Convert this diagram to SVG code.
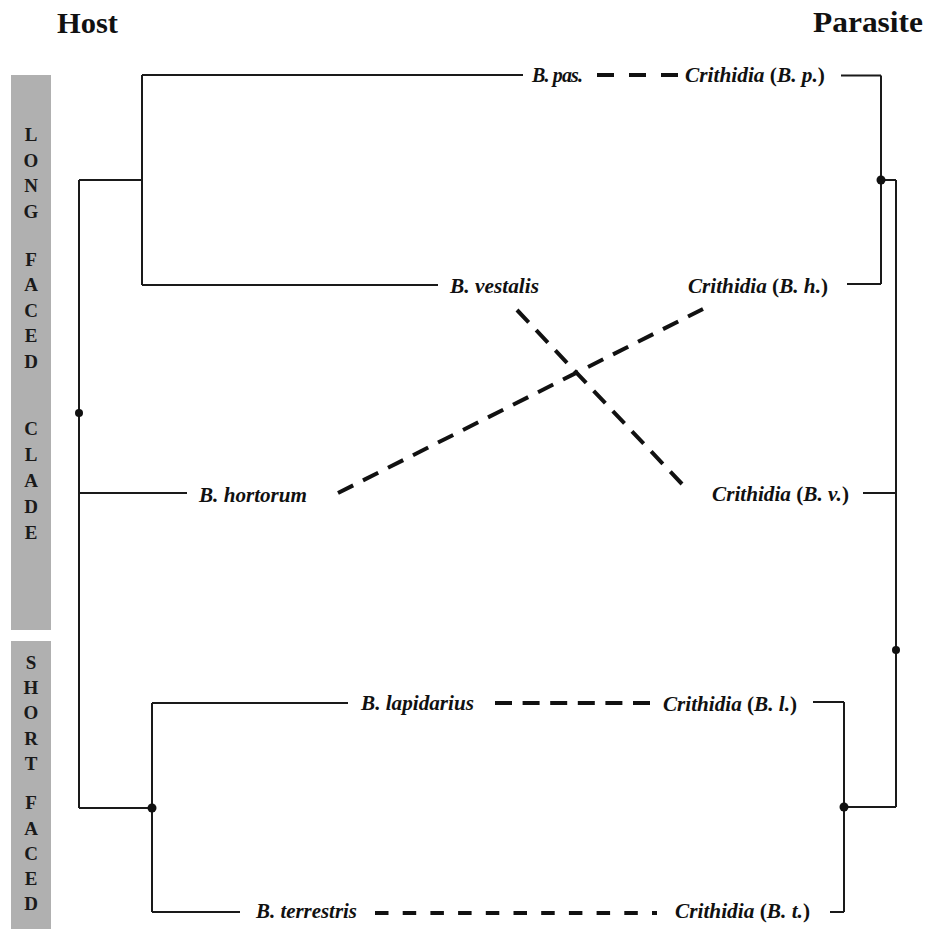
<svg xmlns="http://www.w3.org/2000/svg" width="927" height="929" viewBox="0 0 927 929">
<style>
.hdr{font-family:"Liberation Serif","Times New Roman",serif;font-weight:bold;font-size:30px;fill:#111}
.side{font-family:"Liberation Serif","Times New Roman",serif;font-weight:bold;font-size:19px;fill:#1a1a1a;text-anchor:middle}
.lbl{font-family:"Liberation Serif","Times New Roman",serif;font-weight:bold;font-style:italic;font-size:20px;fill:#111}
.up{font-style:normal}
.tree{stroke:#1a1a1a;stroke-width:2;fill:none}
.dash{stroke:#111;stroke-width:4;fill:none}
.dot{fill:#111}
.band{fill:#b0b0b0}
</style>
<rect width="927" height="929" fill="#ffffff"/>
<g id="headers">
<text class="hdr" x="57" y="33" textLength="61" lengthAdjust="spacingAndGlyphs">Host</text>
<text class="hdr" x="813" y="32" textLength="110" lengthAdjust="spacingAndGlyphs">Parasite</text>
</g>
<g id="long-faced-clade">
<rect class="band" x="11" y="75" width="40" height="555"/>
<text class="side" x="31" y="141">L</text>
<text class="side" x="31" y="166.5">O</text>
<text class="side" x="31" y="192">N</text>
<text class="side" x="31" y="218">G</text>
<text class="side" x="31" y="265.5">F</text>
<text class="side" x="31" y="291">A</text>
<text class="side" x="31" y="316.5">C</text>
<text class="side" x="31" y="342">E</text>
<text class="side" x="31" y="367.5">D</text>
<text class="side" x="31" y="435">C</text>
<text class="side" x="31" y="461">L</text>
<text class="side" x="31" y="487">A</text>
<text class="side" x="31" y="512.5">D</text>
<text class="side" x="31" y="538.5">E</text>
</g>
<g id="short-faced-clade">
<rect class="band" x="11" y="641" width="40" height="288"/>
<text class="side" x="31" y="668.5">S</text>
<text class="side" x="31" y="693.5">H</text>
<text class="side" x="31" y="718.5">O</text>
<text class="side" x="31" y="744.5">R</text>
<text class="side" x="31" y="769.5">T</text>
<text class="side" x="31" y="808.5">F</text>
<text class="side" x="31" y="834.5">A</text>
<text class="side" x="31" y="859.5">C</text>
<text class="side" x="31" y="884.5">E</text>
<text class="side" x="31" y="909.5">D</text>
</g>
<g id="connectors">
<g id="host-tree">
<path class="tree" d="M79 180V808M79 180H142M142 75V285M142 75H523M142 285H438M79 493H187M79 808H152M152 703V912M152 703H348M152 912H240"/>
<circle class="dot" cx="79" cy="413" r="4"/>
<circle class="dot" cx="152" cy="808" r="4.5"/>
</g>
<g id="parasite-tree">
<path class="tree" d="M841 75.5H881M847 284H881M881 75.5V284M881 180H896M896 180V807M863 493H896M813 702H844M830 912H844M844 702V912M844 807H896"/>
<circle class="dot" cx="881" cy="180" r="4.5"/>
<circle class="dot" cx="896" cy="650" r="4"/>
<circle class="dot" cx="844" cy="807" r="4.5"/>
</g>
<g id="associations">
<line class="dash" x1="597" y1="75" x2="678" y2="75" stroke-dasharray="17 15"/>
<line class="dash" x1="517" y1="310" x2="682" y2="484" stroke-dasharray="17 10.85"/>
<line class="dash" x1="338" y1="493" x2="703" y2="309" stroke-dasharray="17 11"/>
<line class="dash" x1="495" y1="703" x2="650" y2="703" stroke-dasharray="17 10.6"/>
<line class="dash" x1="375" y1="913" x2="657" y2="913" stroke-dasharray="13.5 14.2"/>
</g>
</g>
<g id="host-b-pas"><text class="lbl" x="532" y="82" textLength="51" lengthAdjust="spacing">B. pas.</text></g>
<g id="host-b-vestalis"><text class="lbl" x="450" y="293" textLength="89" lengthAdjust="spacingAndGlyphs">B. vestalis</text></g>
<g id="host-b-hortorum"><text class="lbl" x="199" y="502" textLength="108" lengthAdjust="spacingAndGlyphs">B. hortorum</text></g>
<g id="host-b-lapidarius"><text class="lbl" x="361" y="710" textLength="113" lengthAdjust="spacingAndGlyphs">B. lapidarius</text></g>
<g id="host-b-terrestris"><text class="lbl" x="256" y="918" textLength="101" lengthAdjust="spacingAndGlyphs">B. terrestris</text></g>
<g id="parasite-bp"><text class="lbl" x="685" y="82" textLength="140" lengthAdjust="spacingAndGlyphs">Crithidia <tspan class="up">(</tspan>B. p.<tspan class="up">)</tspan></text></g>
<g id="parasite-bh"><text class="lbl" x="688" y="293" textLength="140" lengthAdjust="spacingAndGlyphs">Crithidia <tspan class="up">(</tspan>B. h.<tspan class="up">)</tspan></text></g>
<g id="parasite-bv"><text class="lbl" x="712" y="501" textLength="137" lengthAdjust="spacingAndGlyphs">Crithidia <tspan class="up">(</tspan>B. v.<tspan class="up">)</tspan></text></g>
<g id="parasite-bl"><text class="lbl" x="663" y="711" textLength="134" lengthAdjust="spacingAndGlyphs">Crithidia <tspan class="up">(</tspan>B. l.<tspan class="up">)</tspan></text></g>
<g id="parasite-bt"><text class="lbl" x="675" y="918" textLength="135" lengthAdjust="spacingAndGlyphs">Crithidia <tspan class="up">(</tspan>B. t.<tspan class="up">)</tspan></text></g>
</svg>
